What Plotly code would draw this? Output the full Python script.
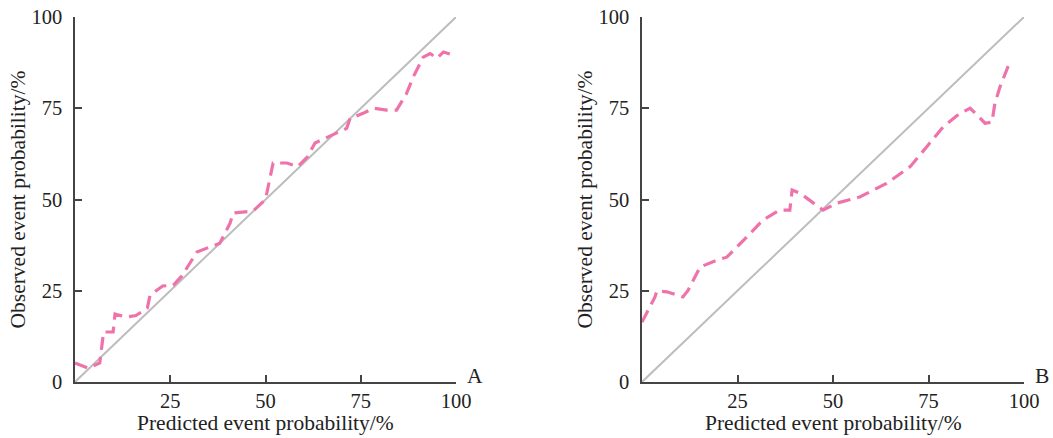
import plotly.graph_objects as go

# Panel A calibration curve
a_pred = [0, 3.5, 6.5, 7.5, 10, 10.5, 13.5, 16, 19, 19.7, 23, 25.8, 28, 32, 35.4, 38, 40.7, 41.5,
          46.7, 50, 52, 55.6, 58.5, 61, 63, 65.6, 67.8, 71.3, 72.2, 75.6, 78.3, 81.8, 84.4, 87,
          88.8, 90, 91.4, 93.2, 95, 96.7, 99.3]
a_obs = [5.2, 3.8, 5.2, 13.7, 13.7, 18.6, 17.8, 18.2, 20.3, 23.8, 26.3, 26.5, 29, 35.6, 37, 38,
         43.5, 46.3, 46.8, 50, 60, 60, 59, 61.7, 65.5, 66.8, 67.7, 69.5, 72.2, 73.6, 75, 74.5,
         74.5, 79, 83.6, 86.3, 89, 90, 88.7, 90.4, 89.6]

# Panel B calibration curve
b_pred = [0, 3.4, 3.9, 6.5, 10.7, 12, 15.2, 19.6, 22.2, 24.9, 27.5, 31.7, 36, 38.7, 39.3, 41.4,
          47.4, 51, 57, 64, 70.2, 74.5, 78.9, 83.2, 85.9, 87.7, 89.8, 91.6, 92.4, 93.7, 96.3]
b_obs = [16.4, 23.3, 25, 24.7, 23.3, 25, 31.5, 33.4, 34.2, 37, 39.8, 44.4, 47.1, 47.1, 52.6, 51.7,
         47.1, 49, 50.7, 54.4, 59, 64.4, 70, 73.6, 75, 73.2, 70.9, 71.2, 76.4, 80.8, 87.7]

ref_line = [0, 100]
x_ticks = [25, 50, 75, 100]
y_ticks = [0, 25, 50, 75, 100]
panel_labels = ["A", "B"]
x_title = "Predicted event probability/%"
y_title = "Observed event probability/%"

PINK = "#EF73AA"
GRAY = "#BDBDBD"
AXIS = "#444444"
TXT = "#222222"
FONT = "Liberation Serif"
TICK_SIZE = 20.5
TITLE_SIZE = 21.5

fig = go.Figure()
for i, (px, py) in enumerate([(a_pred, a_obs), (b_pred, b_obs)]):
    xa = "x" if i == 0 else "x2"
    ya = "y" if i == 0 else "y2"
    fig.add_trace(go.Scatter(x=ref_line, y=ref_line, mode="lines", xaxis=xa, yaxis=ya,
                             line=dict(color=GRAY, width=2), showlegend=False, hoverinfo="skip"))
    fig.add_trace(go.Scatter(x=px, y=py, mode="lines", xaxis=xa, yaxis=ya,
                             line=dict(color=PINK, width=3.2, dash="13px,7px"),
                             showlegend=False))

W, H = 1053, 438
y_dom = [1 - 382 / H, 1 - 17 / H]
x_doms = [[75 / W, 456 / W], [642 / W, 1024 / W]]

common_x = dict(range=[0, 100], tickvals=x_ticks, ticks="inside", ticklen=7, tickwidth=1.5,
                tickcolor=AXIS, showline=True, linecolor=AXIS, linewidth=1.5, showgrid=False,
                zeroline=False, automargin=False, ticklabelstandoff=0,
                ticklabeloverflow="allow",
                tickfont=dict(family=FONT, size=TICK_SIZE, color=TXT))
common_y = dict(range=[0, 100], tickvals=y_ticks, ticks="inside", ticklen=7, tickwidth=1.5,
                tickcolor=AXIS, showline=True, linecolor=AXIS, linewidth=1.5, showgrid=False,
                zeroline=False, automargin=False, ticklabelstandoff=7,
                ticklabeloverflow="allow",
                tickfont=dict(family=FONT, size=TICK_SIZE, color=TXT))

fig.update_layout(
    template="none",
    width=W, height=H, margin=dict(l=0, r=0, t=0, b=0),
    paper_bgcolor="white", plot_bgcolor="white",
    xaxis=dict(domain=x_doms[0], anchor="y", **common_x),
    yaxis=dict(domain=y_dom, anchor="x", **common_y),
    xaxis2=dict(domain=x_doms[1], anchor="y2", **common_x),
    yaxis2=dict(domain=y_dom, anchor="x2", **common_y),
)

# axis titles and panel labels
for i in range(2):
    x0, x1 = x_doms[i]
    fig.add_annotation(text=x_title, x=(x0 + x1) / 2, y=y_dom[0], xref="paper", yref="paper",
                       xanchor="center", yanchor="middle", yshift=-41, showarrow=False,
                       font=dict(family=FONT, size=TITLE_SIZE, color=TXT))
    fig.add_annotation(text=y_title, x=x0, y=(y_dom[0] + y_dom[1]) / 2, xref="paper",
                       yref="paper", xanchor="center", yanchor="middle", textangle=-90,
                       xshift=-57, showarrow=False, font=dict(family=FONT, size=TITLE_SIZE, color=TXT))
    fig.add_annotation(text=panel_labels[i], x=x1, y=y_dom[0], xref="paper", yref="paper",
                       xanchor="left", yanchor="middle", xshift=9, yshift=6, showarrow=False,
                       font=dict(family=FONT, size=TITLE_SIZE, color=TXT))

# remove the default page margin so the 1053x438 figure fills the window exactly
fig.write_html("out.html", config={"displayModeBar": False},
               post_script="document.body.style.margin='0';document.body.style.overflow='hidden';")
